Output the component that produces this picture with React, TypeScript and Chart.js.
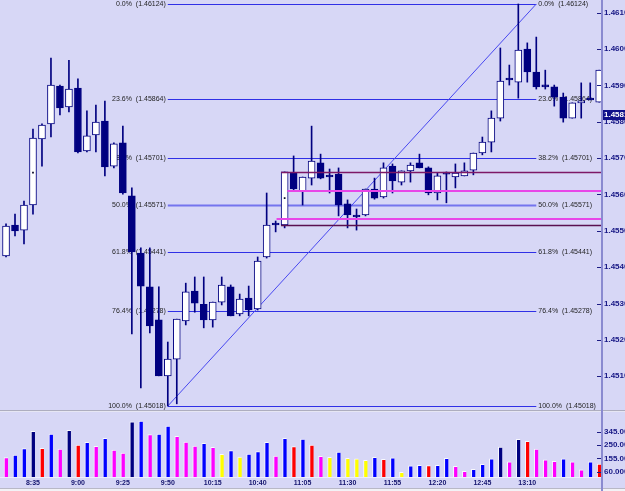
import React, { useEffect, useRef } from 'react';
import { Chart, registerables } from 'chart.js';
Chart.register(...registerables);

// ---------------- data ----------------
const opens = [1.45431,1.45516,1.45502,1.45571,1.45753,1.45794,1.45898,1.45841,1.45893,1.45720,
  1.45764,1.45802,1.45678,1.45742,1.45596,1.45439,1.45346,1.45255,1.45101,1.45147,
  1.45252,1.45334,1.45298,1.45255,1.45304,1.45346,1.45271,1.45315,1.45285,1.45428,
  1.45516,1.45516,1.45659,1.45610,1.45645,1.45687,1.45648,1.45656,1.45574,1.45538,
  1.45544,1.45615,1.45593,1.45678,1.45634,1.45665,1.45687,1.45673,1.45604,1.45656,
  1.45648,1.45651,1.45667,1.45714,1.45744,1.45810,1.45915,1.45909,1.46000,1.45937,
  1.45901,1.45896,1.45868,1.45810,1.45852,1.45860,1.45854];
const closes = [1.45513,1.45500,1.45571,1.45755,1.45791,1.45901,1.45838,1.45890,1.45717,1.45761,
  1.45799,1.45676,1.45739,1.45604,1.45442,1.45348,1.45238,1.45101,1.45147,1.45257,
  1.45332,1.45301,1.45255,1.45304,1.45351,1.45266,1.45312,1.45282,1.45417,1.45516,
  1.45516,1.45662,1.45615,1.45648,1.45692,1.45645,1.45648,1.45571,1.45544,1.45538,
  1.45615,1.45590,1.45673,1.45637,1.45665,1.45681,1.45673,1.45604,1.45651,1.45656,
  1.45659,1.45665,1.45714,1.45744,1.45810,1.45912,1.45915,1.45997,1.45937,1.45896,
  1.45896,1.45868,1.45810,1.45852,1.45857,1.45860,1.45942];
const highs = [1.45519,1.45546,1.45582,1.45780,1.45794,1.45975,1.45901,1.45969,1.45918,1.45830,
  1.45846,1.45857,1.45742,1.45788,1.45618,1.45453,1.45453,1.45346,1.45194,1.45257,
  1.45356,1.45373,1.45373,1.45304,1.45373,1.45351,1.45326,1.45348,1.45428,1.45604,
  1.45527,1.45662,1.45706,1.45648,1.45788,1.45711,1.45670,1.45673,1.45585,1.45560,
  1.45615,1.45645,1.45687,1.45684,1.45665,1.45687,1.45711,1.45676,1.45659,1.45662,
  1.45684,1.45687,1.45714,1.45758,1.45830,1.46003,1.45956,1.46124,1.46017,1.46033,
  1.45942,1.45901,1.45879,1.45852,1.45907,1.45907,1.45942];
const lows = [1.45428,1.45486,1.45464,1.45546,1.45678,1.45758,1.45819,1.45827,1.45714,1.45717,
  1.45717,1.45651,1.45673,1.45601,1.45216,1.45068,1.45219,1.45101,1.45018,1.45024,
  1.45241,1.45276,1.45233,1.45235,1.45296,1.45266,1.45266,1.45266,1.45282,1.45425,
  1.45497,1.45508,1.45610,1.45571,1.45626,1.45643,1.45604,1.45541,1.45508,1.45502,
  1.45541,1.45587,1.45590,1.45604,1.45626,1.45634,1.45673,1.45599,1.45585,1.45577,
  1.45618,1.45651,1.45654,1.45709,1.45717,1.45802,1.45901,1.45865,1.45909,1.45890,
  1.45890,1.45843,1.45799,1.45810,1.45810,1.45860,1.45854];
const volumes = [160,179,224,348,227,329,222,355,250,270,
  241,298,215,193,415,422,324,329,386,313,
  272,243,263,234,184,210,165,186,203,270,
  172,298,239,293,250,170,163,200,156,151,
  141,163,148,158,56,101,106,103,106,156,
  98,63,77,113,151,236,131,291,277,222,
  144,134,151,131,74,131,115];
const volumeKinds = ['M','B','B','N','R','B','M','N','R','B',
  'M','B','M','M','N','B','M','B','B','M',
  'M','M','B','M','Y','B','Y','B','B','B',
  'M','B','R','B','R','M','Y','B','Y','Y',
  'Y','B','R','B','Y','B','B','R','B','B',
  'M','M','B','B','B','N','M','N','R','M',
  'M','M','B','M','M','B','R'];
const timeLabels = ['8:35','9:00','9:25','9:50','10:15','10:40','11:05','11:30','11:55','12:20','12:45','13:10'];
const timeTickIndex = [3,8,13,18,23,28,33,38,43,48,53,58];
const priceTicks = [1.451,1.452,1.453,1.454,1.455,1.456,1.457,1.458,1.459,1.460,1.461];
const volumeTicks = [60,155,250,345];
const fibNames = ['0.0%','23.6%','38.2%','50.0%','61.8%','76.4%','100.0%'];
const fibPrices = [1.46124,1.45864,1.45701,1.45571,1.45441,1.45278,1.45018];
const fibFrom = 18;
const fibTo = 59;
const zonePrices = [1.45662,1.45610,1.45532,1.45516];
const zoneFrom = [30.6,31.3,30.1,30.6];
const markerIndex = [3,31];
const markerPrices = [1.45660,1.45590];
const lastPrice = 1.45818;

// ---------------- style ----------------
const BG = '#d7d7f6';
const NAVY = '#000080';
const FONT = '"Liberation Sans", Arial, sans-serif';
const X_MIN = -0.67;
const X_MAX = 66.2;
const volPalette: Record<string, string> = { B: '#0000ff', N: '#000080', M: '#ff00ff', R: '#ff0000', Y: '#ffff00' };
const zoneColors = ['#7d1866', '#e846e8', '#e846e8', '#5a0f50'];
const zoneWidths = [1.5, 2, 2, 1.5];

Chart.defaults.font.family = FONT;

const noPad = (s: any) => {
  s.paddingTop = 0;
  s.paddingBottom = 0;
  s.paddingLeft = 0;
  s.paddingRight = 0;
};

const tickDash = {
  id: 'tickDash',
  afterDraw(chart: any) {
    const { ctx, chartArea, scales } = chart;
    const y = scales.y;
    ctx.save();
    ctx.strokeStyle = '#1c1c84';
    ctx.lineWidth = 1;
    y.ticks.forEach((t: any) => {
      const py = Math.round(y.getPixelForValue(t.value)) + 0.5;
      ctx.beginPath();
      ctx.moveTo(chartArea.right - 4, py);
      ctx.lineTo(chartArea.right + 1, py);
      ctx.stroke();
    });
    ctx.restore();
  },
};

const fibPlugin = {
  id: 'fib',
  beforeDatasetsDraw(chart: any) {
    const { ctx, scales } = chart;
    const x = scales.x, y = scales.y;
    const x0 = x.getPixelForValue(fibFrom);
    const x1 = x.getPixelForValue(fibTo);
    ctx.save();
    ctx.font = `7px ${FONT}`;
    ctx.textBaseline = 'middle';
    fibPrices.forEach((p, k) => {
      const py = Math.round(y.getPixelForValue(p)) + 0.5;
      ctx.strokeStyle = k === 3 ? '#7474ee' : '#3030e6';
      ctx.lineWidth = k === 3 ? 2 : 1;
      ctx.beginPath();
      ctx.moveTo(x0, py);
      ctx.lineTo(x1, py);
      ctx.stroke();
      const txt = `${fibNames[k]}  (${p.toFixed(5)})`;
      ctx.fillStyle = '#1e1e1e';
      ctx.textAlign = 'right';
      ctx.fillText(txt, x0 - 2, py);
      ctx.textAlign = 'left';
      ctx.fillText(txt, x1 + 2, py);
    });
    ctx.strokeStyle = '#4848f0';
    ctx.lineWidth = 1;
    ctx.beginPath();
    ctx.moveTo(x0, y.getPixelForValue(fibPrices[6]));
    ctx.lineTo(x1, y.getPixelForValue(fibPrices[0]));
    ctx.stroke();
    ctx.restore();
  },
  afterDatasetsDraw(chart: any) {
    const { ctx, scales, chartArea } = chart;
    const x = scales.x, y = scales.y;
    ctx.save();
    zonePrices.forEach((p, k) => {
      const py = Math.round(y.getPixelForValue(p)) + (zoneWidths[k] === 2 ? 0 : 0.5);
      ctx.strokeStyle = zoneColors[k];
      ctx.lineWidth = zoneWidths[k];
      ctx.beginPath();
      ctx.moveTo(x.getPixelForValue(zoneFrom[k]), py);
      ctx.lineTo(chartArea.right, py);
      ctx.stroke();
    });
    ctx.restore();
  },
  afterDraw(chart: any) {
    const { ctx, scales, chartArea } = chart;
    const y = scales.y;
    const py = Math.round(y.getPixelForValue(lastPrice));
    ctx.save();
    ctx.fillStyle = '#10108a';
    ctx.fillRect(chartArea.right + 1, py - 5, 30, 10);
    ctx.fillStyle = '#ffffff';
    ctx.font = `bold 8px ${FONT}`;
    ctx.textBaseline = 'middle';
    ctx.textAlign = 'left';
    ctx.fillText(lastPrice.toFixed(5), chartArea.right + 3, py);
    ctx.restore();
  },
};

function PriceChart() {
  const ref = useRef<HTMLCanvasElement>(null);
  useEffect(() => {
    const bodies = opens.map((o, i) => ({ x: i, y: [o, closes[i]] }));
    const wicks = lows.map((l, i) => ({ x: i, y: [l, highs[i]] }));
    const chart = new Chart(ref.current!, {
      type: 'bar',
      data: {
        datasets: [
          {
            type: 'line',
            data: markerIndex.map((m, k) => ({ x: m, y: markerPrices[k] })),
            showLine: false,
            pointStyle: 'rect',
            pointRadius: 1.2,
            pointHoverRadius: 0,
            backgroundColor: '#000020',
            borderWidth: 0,
            order: -1,
          } as any,
          {
            data: bodies as any,
            grouped: false,
            barThickness: 7,
            minBarLength: 2,
            borderWidth: 1,
            borderSkipped: false,
            borderColor: NAVY,
            backgroundColor: opens.map((o, i) => (closes[i] > o ? '#ffffff' : NAVY)),
            order: 0,
          } as any,
          {
            data: wicks as any,
            grouped: false,
            barThickness: 1,
            borderWidth: 0,
            backgroundColor: NAVY,
            order: 1,
          } as any,
        ],
      },
      options: {
        animation: false,
        responsive: false,
        events: [],
        layout: { padding: 0, autoPadding: false },
        plugins: { legend: { display: false }, tooltip: { enabled: false } },
        scales: {
          x: { type: 'linear', min: X_MIN, max: X_MAX, offset: false, display: false },
          y: {
            type: 'linear',
            position: 'right',
            min: 1.45007,
            max: 1.46135,
            afterBuildTicks: (s: any) => { s.ticks = priceTicks.map((v) => ({ value: v })); },
            afterFit: (s: any) => { s.width = 24; noPad(s); },
            grid: { display: false, drawTicks: false },
            border: { display: false },
            ticks: {
              autoSkip: false,
              padding: 3,
              color: '#161684',
              font: { size: 8, weight: 'bold' },
              callback: (v: any) => Number(v).toFixed(5),
            },
          },
        } as any,
      } as any,
      plugins: [fibPlugin, tickDash],
    });
    return () => chart.destroy();
  }, []);
  return <canvas ref={ref} width={625} height={410} style={{ position: 'absolute', left: 0, top: 0 }} />;
}

function VolumeChart() {
  const ref = useRef<HTMLCanvasElement>(null);
  useEffect(() => {
    const chart = new Chart(ref.current!, {
      type: 'bar',
      data: {
        datasets: [
          {
            data: volumes.map((v, i) => ({ x: i, y: v })) as any,
            barThickness: 4,
            borderWidth: { left: 1, top: 1, right: 0, bottom: 0 },
            borderSkipped: false,
            borderColor: 'rgba(255,255,255,0.85)',
            backgroundColor: volumeKinds.map((k) => volPalette[k]),
          } as any,
        ],
      },
      options: {
        animation: false,
        responsive: false,
        events: [],
        layout: { padding: 0, autoPadding: false },
        plugins: { legend: { display: false }, tooltip: { enabled: false } },
        scales: {
          x: {
            type: 'linear',
            min: X_MIN,
            max: X_MAX,
            offset: false,
            afterBuildTicks: (s: any) => { s.ticks = timeTickIndex.map((v) => ({ value: v })); },
            afterFit: (s: any) => { s.height = 14; noPad(s); },
            grid: { display: false, drawTicks: false },
            border: { display: true, color: '#eeeefc', width: 1 },
            ticks: {
              autoSkip: false,
              maxRotation: 0,
              padding: 2,
              color: '#14146e',
              font: { size: 7, weight: 'bold' },
              callback: (v: any) => timeLabels[timeTickIndex.indexOf(Number(v))] ?? '',
            },
          },
          y: {
            type: 'linear',
            position: 'right',
            min: 22,
            max: 486,
            afterBuildTicks: (s: any) => { s.ticks = volumeTicks.map((v) => ({ value: v })); },
            afterFit: (s: any) => { s.width = 24; noPad(s); },
            grid: { display: false, drawTicks: false },
            border: { display: false },
            ticks: {
              autoSkip: false,
              padding: 3,
              color: '#161684',
              font: { size: 8, weight: 'bold' },
              callback: (v: any) => Number(v).toFixed(4),
            },
          },
        } as any,
      } as any,
      plugins: [tickDash],
    });
    return () => chart.destroy();
  }, []);
  return <canvas ref={ref} width={625} height={79} style={{ position: 'absolute', left: 0, top: 412 }} />;
}

export default function App() {
  return (
    <div style={{ position: 'absolute', left: 0, top: 0, width: 625, height: 491, background: BG, overflow: 'hidden' }}>
      <PriceChart />
      <div style={{ position: 'absolute', left: 0, top: 410, width: 625, height: 1, background: '#adadbf' }} />
      <div style={{ position: 'absolute', left: 0, top: 411, width: 625, height: 1, background: '#e6e6f4' }} />
      <VolumeChart />
      <div style={{ position: 'absolute', left: 0, top: 488, width: 625, height: 1, background: '#b8b8c6' }} />
      <div style={{ position: 'absolute', left: 0, top: 489, width: 625, height: 2, background: '#f2f2f6' }} />
      <div style={{ position: 'absolute', left: 601, top: 0, width: 2, height: 491, background: '#8a8ad0' }} />
    </div>
  );
}
